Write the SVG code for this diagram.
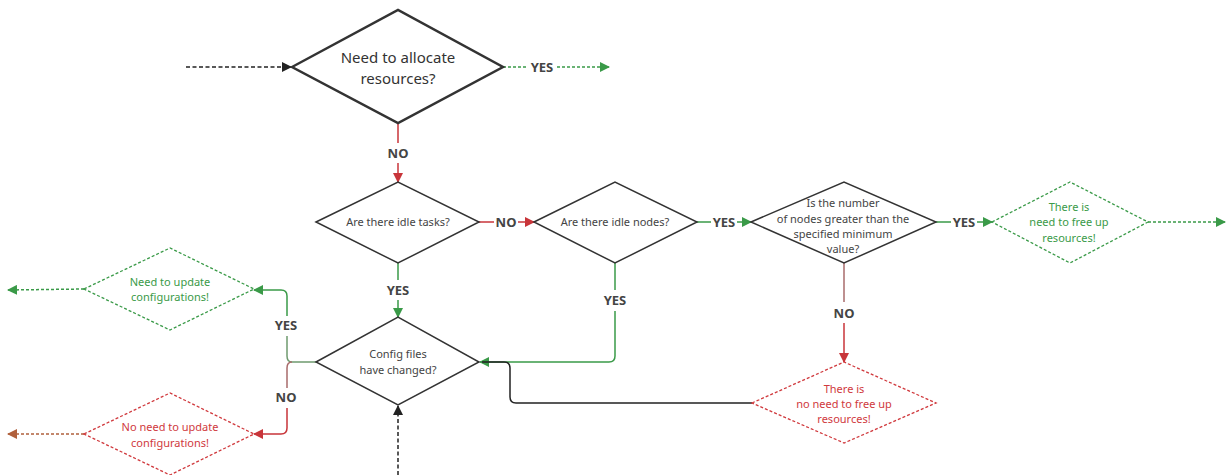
<svg xmlns="http://www.w3.org/2000/svg" width="1227" height="475" viewBox="0 0 1227 475">
<style>
.bg{fill:#ffffff}
.dia{fill:#ffffff;stroke:#333333;stroke-width:1.5}
.diaT{fill:#ffffff;stroke:#333333;stroke-width:2.5}
.diaG{fill:#ffffff;stroke:#3a9a48;stroke-width:1.3;stroke-dasharray:3 2}
.diaR{fill:#ffffff;stroke:#d0393d;stroke-width:1.3;stroke-dasharray:3 2}
.t{font-family:"Noto Sans","Open Sans",sans-serif;font-size:11px;fill:#444444;text-anchor:middle}
.tT{font-family:"Noto Sans","Open Sans",sans-serif;font-size:15px;fill:#333333;text-anchor:middle}
.tG{font-family:"Noto Sans","Open Sans",sans-serif;font-size:11px;fill:#3a9a48;text-anchor:middle}
.tR{font-family:"Noto Sans","Open Sans",sans-serif;font-size:11px;fill:#d0393d;text-anchor:middle}
.lbl{font-family:"Noto Sans","Open Sans",sans-serif;font-size:13px;font-weight:bold;fill:#444444;text-anchor:middle}
.g{fill:none;stroke:#3a9a48;stroke-width:1.5}
.r{fill:none;stroke:#c8353a;stroke-width:1.5}
.k{fill:none;stroke:#222222;stroke-width:1.5}
.gd{fill:none;stroke:#3a9a48;stroke-width:1.5;stroke-dasharray:3 2}
.kd{fill:none;stroke:#222222;stroke-width:1.5;stroke-dasharray:4 2.5}
.bd{fill:none;stroke:#b0603c;stroke-width:1.5;stroke-dasharray:3 2}
</style>
<defs>
<marker id="aG" viewBox="0 0 10 10" refX="9" refY="5" markerWidth="10" markerHeight="10" markerUnits="userSpaceOnUse" orient="auto"><path d="M0,0 L10,5 L0,10 z" fill="#3a9a48"/></marker>
<marker id="aR" viewBox="0 0 10 10" refX="9" refY="5" markerWidth="10" markerHeight="10" markerUnits="userSpaceOnUse" orient="auto"><path d="M0,0 L10,5 L0,10 z" fill="#c8353a"/></marker>
<marker id="aK" viewBox="0 0 10 10" refX="9" refY="5" markerWidth="10" markerHeight="10" markerUnits="userSpaceOnUse" orient="auto"><path d="M0,0 L10,5 L0,10 z" fill="#222222"/></marker>
<marker id="aB" viewBox="0 0 10 10" refX="9" refY="5" markerWidth="10" markerHeight="10" markerUnits="userSpaceOnUse" orient="auto"><path d="M0,0 L10,5 L0,10 z" fill="#b0603c"/></marker>
</defs>
<rect class="bg" x="0" y="0" width="1227" height="475"/>

<g id="connectors">
<path class="kd" d="M186,67 L291,67" marker-end="url(#aK)"/>
<path class="gd" d="M503,67 L528,67"/>
<text class="lbl" x="542" y="72">YES</text>
<path class="gd" d="M557,67 L609,67" marker-end="url(#aG)"/>
<path class="r" d="M398,123 L398,143"/>
<text class="lbl" x="398" y="158">NO</text>
<path class="r" d="M398,163 L398,182" marker-end="url(#aR)"/>
<path class="r" d="M479,222 L494,222"/>
<text class="lbl" x="506" y="227">NO</text>
<path class="r" d="M518,222 L534,222" marker-end="url(#aR)"/>
<path class="g" d="M697,222 L711,222"/>
<text class="lbl" x="724" y="227">YES</text>
<path class="g" d="M737,222 L751,222" marker-end="url(#aG)"/>
<path class="g" d="M936,222 L951,222"/>
<text class="lbl" x="964" y="227">YES</text>
<path class="g" d="M977,222 L992,222" marker-end="url(#aG)"/>
<path class="gd" d="M1148,222 L1225,222" marker-end="url(#aG)"/>
<path fill="none" stroke="#a86b6b" stroke-width="1.5" d="M844,263 L844,302"/>
<text class="lbl" x="844" y="318">NO</text>
<path class="r" d="M844,323 L844,362" marker-end="url(#aR)"/>
<path class="g" d="M398,263 L398,280"/>
<text class="lbl" x="398" y="295">YES</text>
<path class="g" d="M398,300 L398,317" marker-end="url(#aG)"/>
<path class="g" d="M615,263 L615,290"/>
<text class="lbl" x="615" y="305">YES</text>
<path class="g" d="M615,311 L615,356 Q615,362 609,362 L480,362" marker-end="url(#aG)"/>
<path class="k" d="M752,403 L516,403 Q510,403 510,397 L510,368 Q510,362 504,362 L482,362"/>
<path class="kd" d="M398,475 L398,406" marker-end="url(#aK)"/>
<path fill="none" stroke="#6f9a6f" stroke-width="1.5" d="M316,362 L292,362 Q287,362 287,356 L287,336"/>
<text class="lbl" x="286" y="330">YES</text>
<path class="g" d="M287,316 L287,296 Q287,290 281,290 L254,290" marker-end="url(#aG)"/>
<path fill="none" stroke="#a86b6b" stroke-width="1.5" d="M292,362 Q287,362 287,368 L287,388"/>
<text class="lbl" x="286" y="402">NO</text>
<path class="r" d="M287,408 L287,428 Q287,434 281,434 L254,434" marker-end="url(#aR)"/>
<path class="gd" d="M84,289 L8,290" marker-end="url(#aG)"/>
<path class="bd" d="M84,434 L8,434" marker-end="url(#aB)"/>
</g>

<g id="n-allocate">
<polygon class="diaT" points="292,67 398,10 503,67 398,123"/>
<text class="tT" x="398" y="63">Need to allocate</text>
<text class="tT" x="398" y="84">resources?</text>
</g>
<g id="n-idle-tasks">
<polygon class="dia" points="316,222 398,182 479,222 398,263"/>
<text class="t" x="398" y="226">Are there idle tasks?</text>
</g>
<g id="n-idle-nodes">
<polygon class="dia" points="534,222 615,182 697,222 615,263"/>
<text class="t" x="615" y="226">Are there idle nodes?</text>
</g>
<g id="n-number">
<polygon class="dia" points="751,222 844,182 936,222 844,263"/>
<text class="t" x="843" y="207">Is the number</text>
<text class="t" x="843" y="223">of nodes greater than the</text>
<text class="t" x="843" y="238">specified minimum</text>
<text class="t" x="843" y="253">value?</text>
</g>
<g id="n-free-up">
<polygon class="diaG" points="992,222 1070,182 1148,222 1070,263"/>
<text class="tG" x="1069" y="211">There is</text>
<text class="tG" x="1069" y="226">need to free up</text>
<text class="tG" x="1069" y="242">resources!</text>
</g>
<g id="n-no-free-up">
<polygon class="diaR" points="752,403 844,362 936,403 844,443"/>
<text class="tR" x="844" y="393">There is</text>
<text class="tR" x="844" y="408">no need to free up</text>
<text class="tR" x="844" y="423">resources!</text>
</g>
<g id="n-config">
<polygon class="dia" points="316,362 398,317 479,362 398,405"/>
<text class="t" x="398" y="358">Config files</text>
<text class="t" x="398" y="374">have changed?</text>
</g>
<g id="n-update">
<polygon class="diaG" points="84,289 170,248 254,289 170,330"/>
<text class="tG" x="170" y="286">Need to update</text>
<text class="tG" x="170" y="301">configurations!</text>
</g>
<g id="n-no-update">
<polygon class="diaR" points="84,434 170,393 254,434 170,475"/>
<text class="tR" x="170" y="431">No need to update</text>
<text class="tR" x="170" y="447">configurations!</text>
</g>
</svg>
